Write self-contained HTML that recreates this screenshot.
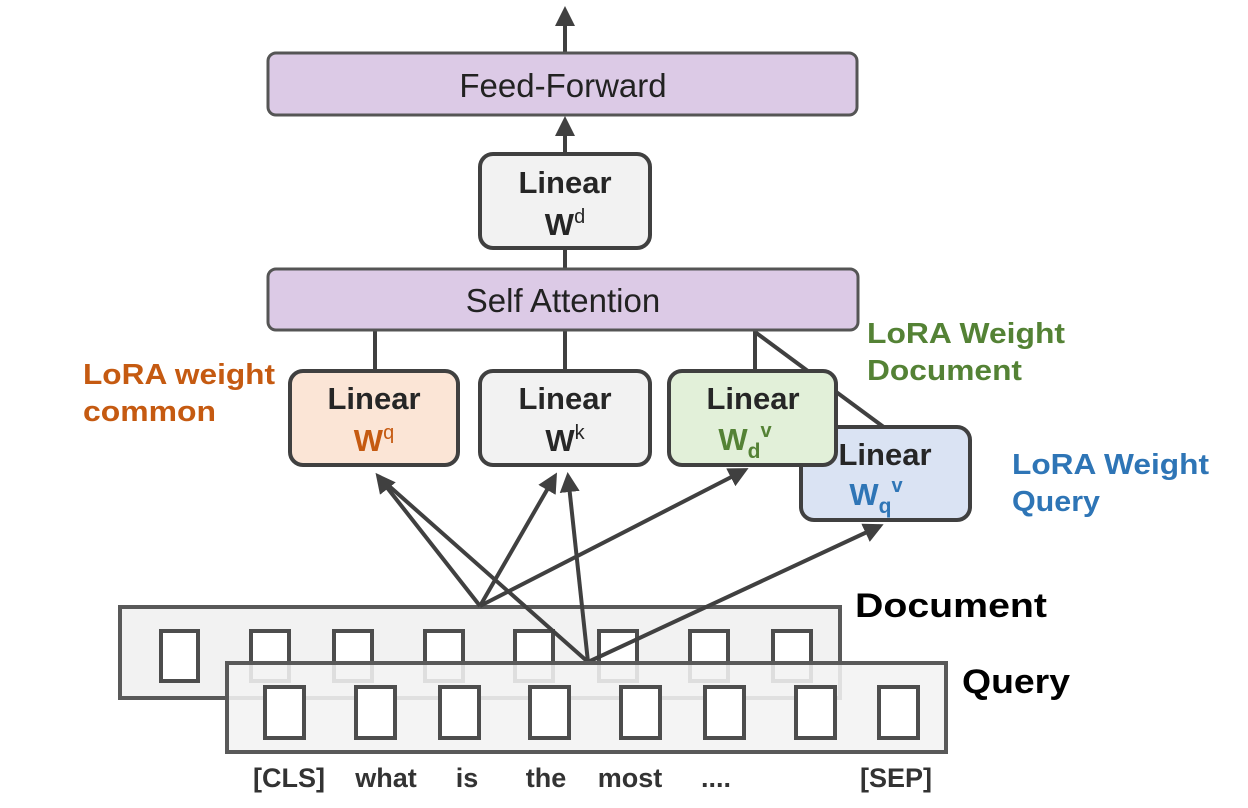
<!DOCTYPE html>
<html><head><meta charset="utf-8"><style>
html,body{margin:0;padding:0;background:#fff;width:1248px;height:808px;overflow:hidden}
svg{display:block}
text{font-family:"Liberation Sans","DejaVu Sans",sans-serif}
</style></head><body>
<svg width="1248" height="808" viewBox="0 0 1248 808" xmlns="http://www.w3.org/2000/svg">
<defs>
<marker id="ah" markerWidth="5" markerHeight="5" refX="4" refY="2.5" orient="auto" markerUnits="strokeWidth">
<path d="M0,0 L5,2.5 L0,5 z" fill="#404040"/></marker>
</defs>
<g stroke="#404040" stroke-width="4" fill="none">
<line x1="565" y1="52" x2="565" y2="10" marker-end="url(#ah)"/>
<line x1="565" y1="153" x2="565" y2="120" marker-end="url(#ah)"/>
<line x1="565" y1="248" x2="565" y2="270"/>
<line x1="375" y1="330" x2="375" y2="372"/>
<line x1="565" y1="330" x2="565" y2="372"/>
<line x1="755" y1="330" x2="755" y2="372"/>
<line x1="755" y1="332" x2="885" y2="428"/>
</g>
<rect x="268" y="53" width="589" height="62" rx="8" fill="#dccae6" stroke="#555" stroke-width="3"/>
<text x="563" y="97" font-size="33" text-anchor="middle" fill="#222">Feed-Forward</text>
<rect x="480" y="154" width="170" height="94" rx="13" fill="#f2f2f2" stroke="#404040" stroke-width="4"/>
<text x="565" y="193" font-size="31" font-weight="bold" text-anchor="middle" fill="#262626">Linear</text>
<text x="565" y="235" font-size="31" font-weight="bold" text-anchor="middle" fill="#262626">W<tspan font-size="20" font-weight="normal" dy="-12">d</tspan></text>
<rect x="268" y="269" width="590" height="61" rx="8" fill="#dccae6" stroke="#555" stroke-width="3"/>
<text x="563" y="312" font-size="33" text-anchor="middle" fill="#222">Self Attention</text>
<rect x="801" y="427" width="169" height="93" rx="13" fill="#dae3f3" stroke="#404040" stroke-width="4"/>
<text x="885" y="465" font-size="31" font-weight="bold" text-anchor="middle" fill="#262626">Linear</text>
<text x="876" y="505" font-size="31" font-weight="bold" text-anchor="middle" fill="#2e75b6">W<tspan font-size="21" dy="8">q</tspan><tspan font-size="20" dy="-21">v</tspan></text>
<rect x="290" y="371" width="168" height="94" rx="13" fill="#fbe5d6" stroke="#404040" stroke-width="4"/>
<text x="374" y="409" font-size="31" font-weight="bold" text-anchor="middle" fill="#262626">Linear</text>
<text x="374" y="451" font-size="31" font-weight="bold" text-anchor="middle" fill="#c55a11">W<tspan font-size="20" font-weight="normal" dy="-12">q</tspan></text>
<rect x="480" y="371" width="170" height="94" rx="13" fill="#f2f2f2" stroke="#404040" stroke-width="4"/>
<text x="565" y="409" font-size="31" font-weight="bold" text-anchor="middle" fill="#262626">Linear</text>
<text x="565" y="451" font-size="31" font-weight="bold" text-anchor="middle" fill="#262626">W<tspan font-size="20" font-weight="normal" dy="-12">k</tspan></text>
<rect x="669" y="371" width="167" height="94" rx="13" fill="#e2f0d9" stroke="#404040" stroke-width="4"/>
<text x="753" y="409" font-size="31" font-weight="bold" text-anchor="middle" fill="#262626">Linear</text>
<text x="745" y="450" font-size="31" font-weight="bold" text-anchor="middle" fill="#548235">W<tspan font-size="21" dy="8">d</tspan><tspan font-size="20" dy="-21">v</tspan></text>
<text x="83" y="384" font-size="29" font-weight="bold" fill="#c55a11" textLength="192" lengthAdjust="spacingAndGlyphs">LoRA weight</text>
<text x="83" y="421" font-size="29" font-weight="bold" fill="#c55a11" textLength="133" lengthAdjust="spacingAndGlyphs">common</text>
<text x="867" y="343" font-size="29" font-weight="bold" fill="#548235" textLength="198" lengthAdjust="spacingAndGlyphs">LoRA Weight</text>
<text x="867" y="380" font-size="29" font-weight="bold" fill="#548235" textLength="155" lengthAdjust="spacingAndGlyphs">Document</text>
<text x="1012" y="474" font-size="29" font-weight="bold" fill="#2e75b6" textLength="197" lengthAdjust="spacingAndGlyphs">LoRA Weight</text>
<text x="1012" y="511" font-size="29" font-weight="bold" fill="#2e75b6" textLength="88" lengthAdjust="spacingAndGlyphs">Query</text>
<text x="855" y="617" font-size="34" font-weight="bold" fill="#000" textLength="192" lengthAdjust="spacingAndGlyphs">Document</text>
<text x="962" y="693" font-size="34" font-weight="bold" fill="#000" textLength="108" lengthAdjust="spacingAndGlyphs">Query</text>
<rect x="120" y="607" width="720" height="91" fill="#f2f2f2" stroke="#595959" stroke-width="4"/>
<g fill="#fff" stroke="#4d4d4d" stroke-width="4">
<rect x="161" y="631" width="37" height="50"/>
<rect x="251" y="631" width="38" height="50"/>
<rect x="334" y="631" width="38" height="50"/>
<rect x="425" y="631" width="38" height="50"/>
<rect x="515" y="631" width="38" height="50"/>
<rect x="599" y="631" width="38" height="50"/>
<rect x="690" y="631" width="38" height="50"/>
<rect x="773" y="631" width="38" height="50"/>
</g>
<g stroke="#404040" stroke-width="4" fill="none">
<line x1="480" y1="606" x2="378" y2="476" marker-end="url(#ah)"/>
<line x1="480" y1="606" x2="555" y2="476" marker-end="url(#ah)"/>
<line x1="480" y1="606" x2="745" y2="470" marker-end="url(#ah)"/>
<line x1="588" y1="662" x2="380" y2="478"/>
<line x1="588" y1="662" x2="568" y2="476" marker-end="url(#ah)"/>
<line x1="588" y1="662" x2="880" y2="526" marker-end="url(#ah)"/>
</g>
<rect x="227" y="663" width="719" height="89" fill="#f2f2f2" fill-opacity="0.88" stroke="#595959" stroke-width="4"/>
<g fill="#fff" stroke="#4d4d4d" stroke-width="4">
<rect x="265" y="687" width="39" height="51"/>
<rect x="356" y="687" width="39" height="51"/>
<rect x="440" y="687" width="39" height="51"/>
<rect x="530" y="687" width="39" height="51"/>
<rect x="621" y="687" width="39" height="51"/>
<rect x="705" y="687" width="39" height="51"/>
<rect x="796" y="687" width="39" height="51"/>
<rect x="879" y="687" width="39" height="51"/>
</g>
<g font-size="27" font-weight="bold" fill="#333" text-anchor="middle">
<text x="289" y="787">[CLS]</text>
<text x="386" y="787">what</text>
<text x="467" y="787">is</text>
<text x="546" y="787">the</text>
<text x="630" y="787">most</text>
<text x="716" y="787">....</text>
<text x="896" y="787">[SEP]</text>
</g>
</svg>
</body></html>
